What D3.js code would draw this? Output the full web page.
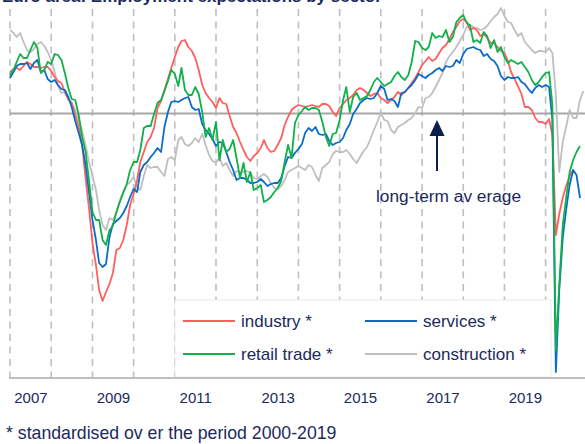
<!DOCTYPE html>
<html>
<head>
<meta charset="utf-8">
<script src="https://cdn.jsdelivr.net/npm/d3@7"></script>
<style>
  body { margin: 0; background: #fff; }
  svg { display: block; font-family: "Liberation Sans", Arial, sans-serif; }
</style>
</head>
<body>
<div id="chart"></div>
<script>
// monthly values, standardised, Jan 2007 onwards
const industry = [0.83,0.89,0.91,0.87,0.95,1.03,0.99,0.93,0.93,0.91,0.93,0.93,
  0.85,0.73,0.65,0.61,0.43,0.29,0.21,-0.03,-0.27,-0.63,-1.29,-1.89,
  -2.59,-3.03,-3.53,-3.75,-3.57,-3.41,-3.19,-2.73,-2.69,-2.53,-2.23,-1.83,
  -1.61,-1.33,-0.97,-0.77,-0.57,-0.47,-0.29,0.11,0.25,0.47,0.69,0.91,
  1.13,1.33,1.45,1.47,1.33,1.25,1.11,0.87,0.57,0.41,0.31,0.23,
  0.11,0.31,0.21,0.19,-0.05,-0.27,-0.39,-0.57,-0.73,-0.87,-0.95,-0.85,
  -0.79,-0.69,-0.53,-0.69,-0.77,-0.75,-0.63,-0.49,-0.23,-0.07,0.07,0.13,
  0.17,0.15,0.13,0.15,0.17,0.15,0.13,0.19,0.19,0.15,0.03,-0.05,
  0.11,0.19,0.27,0.31,0.37,0.47,0.51,0.47,0.41,0.35,0.39,0.41,
  0.31,0.27,0.21,0.27,0.33,0.43,0.37,0.43,0.51,0.61,0.71,0.83,
  0.97,1.05,1.13,1.05,1.09,1.21,1.31,1.37,1.49,1.63,1.73,1.85,
  1.89,1.83,1.67,1.71,1.67,1.55,1.59,1.51,1.41,1.41,1.33,1.25,
  1.21,1.05,0.83,0.69,0.55,0.39,0.13,0.13,0.07,-0.09,-0.17,-0.17,
  -0.21,-0.11,-0.43,-2.43,-2.01,-1.69,-1.45,-1.25,-1.13];

const services = [0.71,0.83,0.95,0.99,0.99,1.01,0.89,1.01,1.07,0.83,0.87,0.69,
  0.63,0.67,0.57,0.49,0.47,0.33,0.13,-0.15,-0.39,-0.63,-1.03,-1.57,
  -2.13,-2.53,-2.99,-3.07,-3.01,-2.47,-2.21,-2.15,-2.09,-1.99,-1.85,-1.67,
  -1.51,-1.57,-1.17,-1.03,-0.97,-0.87,-0.79,-0.69,-0.77,-0.27,0.03,0.23,
  0.25,0.23,0.27,0.31,0.33,0.13,0.07,0.09,-0.21,-0.33,-0.41,-0.51,
  -0.65,-0.57,-0.59,-0.77,-0.97,-1.13,-1.33,-1.29,-1.29,-1.33,-1.39,-1.39,
  -1.37,-1.31,-1.37,-1.45,-1.41,-1.39,-1.39,-1.29,-1.05,-0.87,-0.89,-0.79,
  -0.71,-0.61,-0.39,-0.29,-0.35,-0.27,-0.41,-0.43,-0.41,-0.55,-0.63,-0.59,
  -0.57,-0.49,-0.33,-0.21,-0.01,0.09,0.21,0.27,0.31,0.29,0.31,0.41,
  0.55,0.49,0.27,0.29,0.25,0.13,0.41,0.43,0.51,0.57,0.67,0.79,
  0.75,0.71,0.77,0.81,0.87,0.91,0.85,0.95,0.93,0.95,1.07,1.01,
  1.19,1.29,1.31,1.33,1.29,1.27,1.15,1.19,1.09,1.05,0.95,0.75,
  0.67,0.73,0.71,0.71,0.73,0.63,0.59,0.49,0.41,0.51,0.57,0.53,
  0.57,0.53,-0.13,-5.17,-3.53,-2.49,-1.93,-1.43,-1.13,-1.23,-1.69];

const retailTrade = [0.77,0.87,1.03,1.19,1.11,1.11,1.27,1.43,1.31,0.81,0.87,1.03,
  0.99,1.19,1.17,1.07,0.81,0.51,0.29,0.27,-0.03,-0.47,-0.77,-1.33,
  -1.97,-2.13,-2.13,-2.53,-2.63,-2.33,-2.25,-1.97,-1.77,-1.59,-1.41,-1.13,
  -0.97,-0.97,-0.73,-0.29,-0.25,-0.25,-0.01,0.21,0.27,0.45,0.65,0.87,
  0.79,0.55,0.91,0.47,0.37,0.37,0.53,0.39,0.03,-0.47,-0.29,-0.53,
  -0.17,-0.93,-0.53,-0.77,-0.71,-0.53,-0.89,-1.29,-0.99,-1.37,-1.17,-1.53,
  -1.49,-1.43,-1.77,-1.73,-1.67,-1.57,-1.49,-1.35,-0.97,-0.63,-0.89,-0.19,
  -0.03,0.05,0.13,0.07,0.11,0.11,0.07,-0.17,-0.47,-0.65,-0.41,-0.39,
  -0.13,0.27,0.53,0.03,0.33,0.41,0.27,0.31,0.35,0.47,0.63,0.71,
  0.63,0.55,0.59,0.63,0.75,0.83,0.73,0.67,0.77,1.03,1.45,1.43,
  1.31,1.27,1.33,1.61,1.51,1.55,1.53,1.67,1.43,1.53,1.83,1.91,
  1.97,1.81,1.77,1.43,1.47,1.41,1.63,1.55,1.31,1.47,1.23,1.33,
  1.13,1.01,1.07,1.03,0.99,1.03,0.93,0.83,0.67,0.57,0.63,0.73,
  0.81,0.83,0.17,-4.73,-3.43,-2.23,-1.69,-1.17,-0.93,-0.77,-0.65];

const construction = [1.67,1.61,1.53,1.61,1.43,1.27,1.23,1.29,1.39,1.43,1.35,1.23,
  1.07,0.83,0.55,0.41,0.43,0.27,0.21,0.07,-0.13,-0.35,-0.63,-0.97,
  -1.25,-1.53,-1.93,-2.23,-2.33,-2.09,-2.13,-1.99,-1.73,-1.55,-1.43,-1.37,
  -1.27,-1.47,-1.53,-1.25,-1.03,-1.09,-1.07,-1.07,-1.17,-1.25,-0.91,-0.87,
  -0.93,-0.53,-0.47,-0.61,-0.65,-0.59,-0.49,-0.57,-0.41,-0.63,-0.83,-0.95,
  -0.99,-0.89,-1.05,-0.99,-1.13,-1.25,-1.15,-1.17,-1.17,-1.15,-1.19,-1.29,
  -1.31,-1.25,-1.21,-1.27,-1.39,-1.49,-1.51,-1.45,-1.33,-1.17,-1.13,-1.09,
  -1.05,-1.09,-1.13,-1.03,-1.07,-1.23,-1.35,-1.09,-1.03,-0.97,-0.81,-0.75,
  -0.77,-0.77,-0.73,-0.81,-0.91,-0.99,-0.87,-0.75,-0.67,-0.51,-0.33,-0.17,
  0.01,-0.13,-0.15,-0.33,-0.39,-0.27,-0.23,-0.19,-0.13,-0.09,0.01,0.13,
  0.11,0.31,0.33,0.41,0.53,0.67,0.81,1.03,1.15,1.23,1.33,1.45,
  1.57,1.73,1.77,1.73,1.71,1.67,1.69,1.75,1.85,1.93,1.99,2.11,
  1.95,1.83,1.81,1.67,1.55,1.61,1.43,1.35,1.27,1.21,1.25,1.25,
  1.23,1.31,1.21,0.37,-1.17,-0.57,-0.27,0.07,-0.09,-0.09,0.27,0.45];

const gridYears = d3.range(2007, 2021);
const labelYears = [2007, 2009, 2011, 2013, 2015, 2017, 2019];

const series = [
  { name: "construction *", values: construction, color: "#bfbfbf" },
  { name: "industry *", values: industry, color: "#ff5f5f" },
  { name: "services *", values: services, color: "#0a6cc6" },
  { name: "retail trade *", values: retailTrade, color: "#10b04a" }
];

const width = 585, height = 444;
const plotTop = 9, plotBottom = 378, plotLeft = 10;
const navy = "#1b2a5c";

const svg = d3.select("#chart").append("svg")
  .attr("width", width).attr("height", height);

const x = d3.scaleTime()
  .domain([new Date(2007, 0, 1), new Date(2020, 0, 1)])
  .range([plotLeft, 545.6]);

const y = d3.scaleLinear()
  .domain([-5.29, 2.07])
  .range([plotBottom, 10]);

// title, cut off by the top edge as in the source image
svg.append("text")
  .attr("x", 2).attr("y", 1.5)
  .attr("fill", navy)
  .attr("font-weight", "bold")
  .attr("font-size", 17)
  .text("Euro area: Employment expectations by sector");

// dashed year gridlines
svg.append("g").selectAll("line")
  .data(gridYears)
  .join("line")
  .attr("x1", d => x(new Date(d, 0, 1)))
  .attr("x2", d => x(new Date(d, 0, 1)))
  .attr("y1", plotTop)
  .attr("y2", plotBottom)
  .attr("stroke", "#bfbfbf")
  .attr("stroke-width", 1.6)
  .attr("stroke-dasharray", "7,5.5");

// legend box hides gridlines underneath
svg.append("rect")
  .attr("x", 175).attr("y", 300)
  .attr("width", 376).attr("height", 77)
  .attr("fill", "#fff")
  .attr("stroke", "#ececec");

// long-term average
svg.append("line")
  .attr("x1", plotLeft).attr("x2", width)
  .attr("y1", y(0)).attr("y2", y(0))
  .attr("stroke", "#a6a6a6")
  .attr("stroke-width", 2);

// x axis: ticks at year starts, labels mid-year on odd years
const axisG = svg.append("g")
  .attr("transform", `translate(0,${plotBottom})`)
  .call(d3.axisBottom(x)
    .tickValues(gridYears.map(d => new Date(d, 0, 1)))
    .tickSize(0)
    .tickFormat(""));
axisG.select(".domain")
  .attr("d", `M${plotLeft - 1},0H${width}`)
  .attr("stroke", "#bfbfbf")
  .attr("stroke-width", 2);

const labelG = svg.append("g")
  .attr("transform", `translate(0,${plotBottom})`)
  .call(d3.axisBottom(x)
    .tickValues(labelYears.map(d => new Date(d, 6, 1)))
    .tickSize(0)
    .tickPadding(14)
    .tickFormat(d3.timeFormat("%Y")));
labelG.select(".domain").remove();
labelG.selectAll("text")
  .attr("font-size", 15)
  .attr("font-family", "Liberation Sans, Arial, sans-serif")
  .attr("fill", navy);

// series lines
const line = d3.line()
  .x((d, i) => x(d3.timeMonth.offset(new Date(2007, 0, 1), i)))
  .y(d => y(d));

svg.append("g").selectAll("path")
  .data(series)
  .join("path")
  .attr("d", d => line(d.values))
  .attr("fill", "none")
  .attr("stroke", d => d.color)
  .attr("stroke-width", 1.8)
  .attr("stroke-linejoin", "round");

// arrow to average line
svg.append("line")
  .attr("x1", 437).attr("x2", 437)
  .attr("y1", 171).attr("y2", 133)
  .attr("stroke", "#0b1f4e")
  .attr("stroke-width", 2);
svg.append("path")
  .attr("d", "M437,120 L444.5,136 L429.5,136 Z")
  .attr("fill", "#0b1f4e");

svg.append("text")
  .attr("x", 376).attr("y", 202)
  .attr("fill", navy)
  .attr("font-size", 17.3)
  .text("long-term av erage");

// legend
const legendOrder = [
  { s: series[1], lx: 183, ly: 321 },
  { s: series[2], lx: 365, ly: 321 },
  { s: series[3], lx: 183, ly: 354 },
  { s: series[0], lx: 365, ly: 354 }
];
const leg = svg.append("g").selectAll("g")
  .data(legendOrder)
  .join("g")
  .attr("transform", d => `translate(${d.lx},${d.ly})`);
leg.append("line")
  .attr("x1", 0).attr("x2", 52)
  .attr("stroke", d => d.s.color)
  .attr("stroke-width", 2);
leg.append("text")
  .attr("x", 58).attr("y", 6)
  .attr("fill", navy)
  .attr("font-size", 17)
  .text(d => d.s.name);

// footnote
svg.append("text")
  .attr("x", 6).attr("y", 439)
  .attr("fill", navy)
  .attr("font-size", 17.7)
  .text("* standardised ov er the period 2000-2019");
</script>
</body>
</html>
